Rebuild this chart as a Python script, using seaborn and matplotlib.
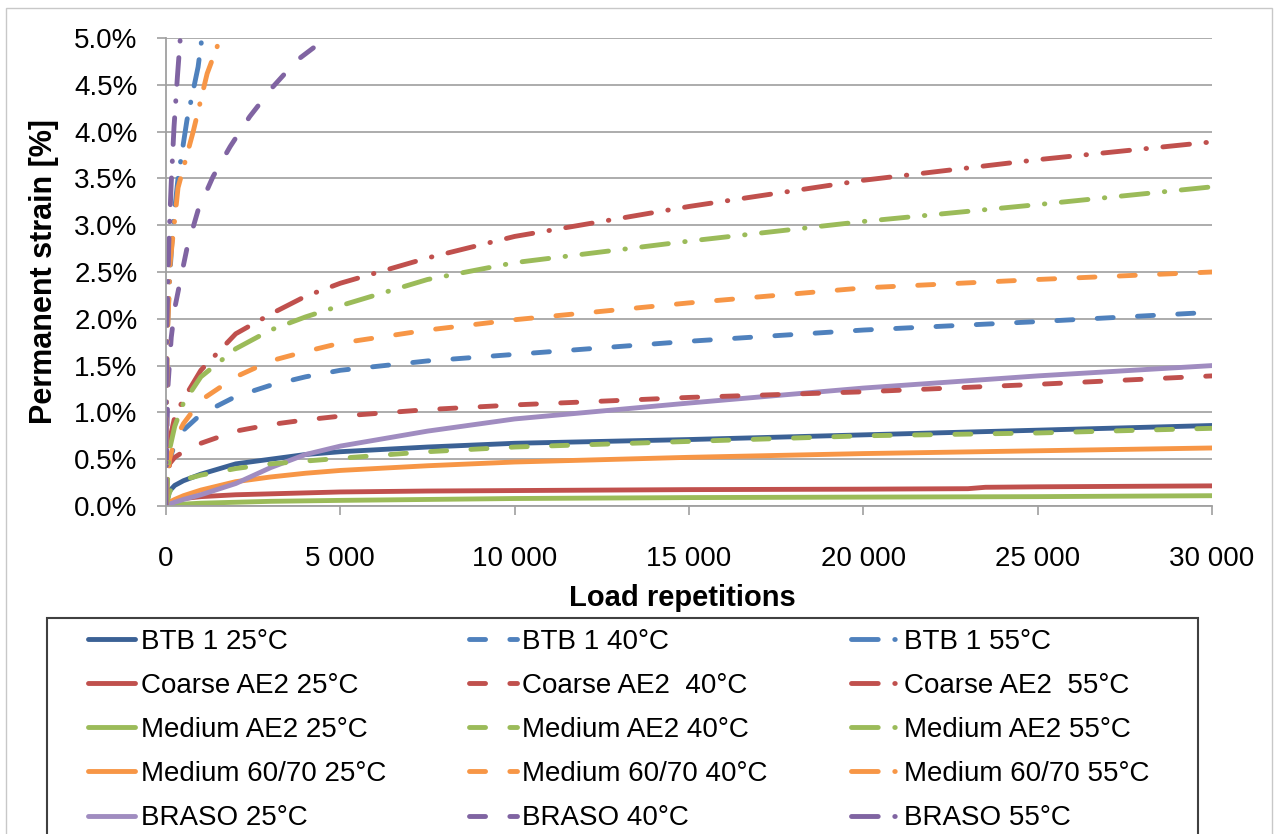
import matplotlib
matplotlib.use("Agg")
import matplotlib.pyplot as plt
import seaborn as sns
from matplotlib.patches import Rectangle
from matplotlib.ticker import FuncFormatter, MultipleLocator

# Load repetitions shared by the slowly growing curves
reps = [0, 100, 250, 500, 1000, 2000, 3000, 4000, 5000, 7500, 10000, 15000, 20000, 25000, 30000]
reps_coarse_25 = [0, 100, 250, 500, 1000, 2000, 3000, 4000, 5000, 7500, 10000, 15000, 20000,
                  23000, 23500, 25000, 30000]

# Permanent strain [%]
btb1_25 = [0, 0.16, 0.22, 0.27, 0.34, 0.45, 0.50, 0.55, 0.58, 0.63, 0.67, 0.71, 0.76, 0.81, 0.86]
btb1_40 = [0, 0.50, 0.65, 0.81, 0.98, 1.17, 1.29, 1.38, 1.45, 1.55, 1.62, 1.76, 1.88, 1.97, 2.07]
coarse_25 = [0, 0.04, 0.06, 0.08, 0.10, 0.12, 0.13, 0.14, 0.15, 0.16, 0.165, 0.175, 0.18,
             0.185, 0.20, 0.205, 0.215]
coarse_40 = [0, 0.45, 0.52, 0.58, 0.67, 0.80, 0.87, 0.92, 0.96, 1.03, 1.08, 1.16, 1.22, 1.30, 1.39]
coarse_55 = [0, 0.70, 0.95, 1.14, 1.45, 1.84, 2.05, 2.24, 2.38, 2.65, 2.88, 3.20, 3.48, 3.70, 3.89]
medae2_25 = [0, 0.01, 0.015, 0.02, 0.03, 0.04, 0.05, 0.055, 0.06, 0.07, 0.08, 0.09, 0.095, 0.10, 0.11]
medae2_40 = [0, 0.15, 0.22, 0.28, 0.33, 0.40, 0.45, 0.48, 0.51, 0.58, 0.63, 0.69, 0.75, 0.78, 0.83]
medae2_55 = [0, 0.60, 0.85, 1.10, 1.38, 1.68, 1.88, 2.02, 2.14, 2.42, 2.60, 2.83, 3.04, 3.22, 3.41]
med6070_25 = [0, 0.04, 0.07, 0.11, 0.17, 0.26, 0.31, 0.35, 0.38, 0.43, 0.47, 0.52, 0.56, 0.59, 0.62]
med6070_40 = [0, 0.50, 0.70, 0.88, 1.13, 1.38, 1.55, 1.65, 1.74, 1.88, 1.99, 2.17, 2.33, 2.42, 2.50]
braso_25 = [0, 0.02, 0.04, 0.07, 0.12, 0.24, 0.41, 0.55, 0.64, 0.80, 0.93, 1.10, 1.26, 1.39, 1.50]

# Steep curves (hit the 5 % ceiling early)
reps_btb1_55 = [0, 10, 30, 115, 200, 345, 600, 920, 1030]
btb1_55 = [0, 1.0, 1.8, 2.5, 3.0, 3.5, 4.12, 4.69, 5.0]
reps_med6070_55 = [0, 10, 40, 120, 345, 780, 1180, 1460, 1550]
med6070_55 = [0, 0.9, 1.8, 2.6, 3.4, 4.0, 4.62, 4.9, 5.0]
reps_braso_40 = [0, 20, 60, 150, 260, 460, 600, 920, 1350, 1840, 2400, 3070, 3750, 4600]
braso_40 = [0, 0.7, 1.3, 1.8, 2.13, 2.5, 2.75, 3.16, 3.52, 3.84, 4.16, 4.48, 4.76, 5.0]
reps_braso_55 = [0, 5, 30, 80, 150, 230, 330, 410]
braso_55 = [0, 1.0, 2.0, 2.8, 3.45, 4.05, 4.6, 5.0]

DARK_BLUE = "#3B6195"
BLUE = "#4F81BD"
RED = "#C0504D"
GREEN = "#9BBB59"
ORANGE = "#F79646"
LIGHT_PURPLE = "#A08CC0"
PURPLE = "#8064A2"

series = [
    ("BTB 1 25°C", reps, btb1_25, DARK_BLUE, "solid"),
    ("Coarse AE2 25°C", reps_coarse_25, coarse_25, RED, "solid"),
    ("Medium AE2 25°C", reps, medae2_25, GREEN, "solid"),
    ("Medium 60/70 25°C", reps, med6070_25, ORANGE, "solid"),
    ("BRASO 25°C", reps, braso_25, LIGHT_PURPLE, "solid"),
    ("BTB 1 40°C", reps, btb1_40, BLUE, "dash"),
    ("Coarse AE2  40°C", reps, coarse_40, RED, "dash"),
    ("Medium AE2 40°C", reps, medae2_40, GREEN, "dash"),
    ("Medium 60/70 40°C", reps, med6070_40, ORANGE, "dash"),
    ("BRASO 40°C", reps_braso_40, braso_40, PURPLE, "dash"),
    ("BTB 1 55°C", reps_btb1_55, btb1_55, BLUE, "dashdot"),
    ("Coarse AE2  55°C", reps, coarse_55, RED, "dashdot"),
    ("Medium AE2 55°C", reps, medae2_55, GREEN, "dashdot"),
    ("Medium 60/70 55°C", reps_med6070_55, med6070_55, ORANGE, "dashdot"),
    ("BRASO 55°C", reps_braso_55, braso_55, PURPLE, "dashdot"),
]

dash_patterns = {"dash": (3.3, 5.0), "dashdot": (5.5, 3.4, 0.1, 3.4)}

sns.set_theme(style="white")
plt.rcParams["font.family"] = ["Liberation Sans", "DejaVu Sans"]
plt.rcParams["text.color"] = "black"

W, H = 1274, 834
fig = plt.figure(figsize=(W / 100, H / 100), dpi=100)
ax = fig.add_axes([166 / W, 1 - 506 / H, (1212 - 166) / W, (506 - 38) / H])

LW = 3.5
handles = []
labels = []
for label, x, y, color, style in series:
    sns.lineplot(x=x, y=y, ax=ax, color=color, linewidth=LW, label=label, legend=False)
    line = ax.lines[-1]
    line.set_solid_capstyle("round")
    line.set_dash_capstyle("round")
    line.set_solid_joinstyle("round")
    if style in dash_patterns:
        line.set_dashes(dash_patterns[style])
    handles.append(line)
    labels.append(label)

ax.set_xlim(0, 30000)
ax.set_ylim(0, 5)
ax.xaxis.set_major_locator(MultipleLocator(5000))
ax.yaxis.set_major_locator(MultipleLocator(0.5))
ax.xaxis.set_major_formatter(FuncFormatter(lambda v, p: f"{int(round(v)):,}".replace(",", " ")))
ax.yaxis.set_major_formatter(FuncFormatter(lambda v, p: f"{v:.1f}%"))

ax.yaxis.grid(True, color="#A6A6A6", linewidth=1.3)
ax.xaxis.grid(False)
ax.set_axisbelow(True)
for side in ["top", "right"]:
    ax.spines[side].set_visible(False)
for side in ["left", "bottom"]:
    ax.spines[side].set_color("#A0A0A0")
    ax.spines[side].set_linewidth(1.3)

ax.tick_params(axis="both", direction="out", length=6.5, width=1.2, color="#A0A0A0",
               labelsize=20, labelcolor="black")
ax.tick_params(axis="x", pad=22, bottom=True)
ax.tick_params(axis="y", pad=14, left=True)

ax.set_xlabel("Load repetitions", fontsize=21, fontweight="bold", va="center", color="black")
ax.xaxis.set_label_coords((682 - 166) / 1046, (506 - 598) / 468)
ax.set_ylabel("Permanent strain [%]", fontsize=22, fontweight="bold", va="center", color="black")
ax.yaxis.set_label_coords((44 - 166) / 1046, 0.5)

ax.legend(handles, labels, ncol=3, loc="upper left",
          bbox_to_anchor=(88 / W, 1 - 629 / H), bbox_transform=fig.transFigure,
          frameon=False, fontsize=20, labelcolor="black", handlelength=1.7,
          handletextpad=0.2, columnspacing=3.0, labelspacing=0.65,
          borderpad=0, borderaxespad=0)

# legend box (runs off the bottom edge) and outer chart border
fig.add_artist(Rectangle((47 / W, -0.05), (1198 - 47) / W, (834 - 618) / H + 0.05,
                         transform=fig.transFigure, fill=False, edgecolor="#404040",
                         linewidth=1.5))
fig.add_artist(Rectangle((6 / W, -0.05), (1272 - 6) / W, 1 - 8 / H + 0.05,
                         transform=fig.transFigure, fill=False, edgecolor="#C8C8C8",
                         linewidth=1.0))

fig.savefig("out.png", dpi=100)
